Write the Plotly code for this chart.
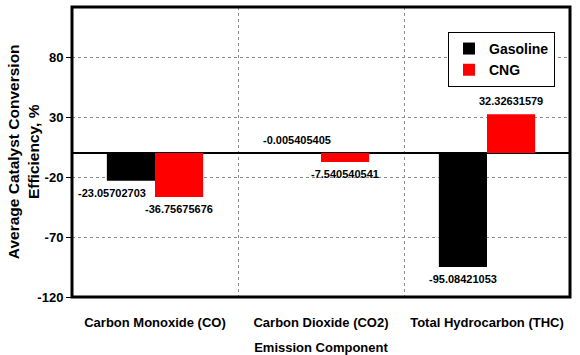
import plotly.graph_objects as go

categories = ["Carbon Monoxide (CO)", "Carbon Dioxide (CO2)", "Total Hydrocarbon (THC)"]
gasoline = [-23.05702703, -0.005405405, -95.08421053]
cng = [-36.75675676, -7.540540541, 32.32631579]
gas_labels = ["-23.05702703", "-0.005405405", "-95.08421053"]
cng_labels = ["-36.75675676", "-7.540540541", "32.32631579"]
ytick_vals = [-120, -70, -20, 30, 80]

FONT = "Liberation Sans, Arial, sans-serif"
BARGAP = 0.42
half = (1 - BARGAP) / 4  # half width of one bar in category units

fig = go.Figure()
fig.add_trace(go.Bar(name="<b>Gasoline</b>", x=categories, y=gasoline, marker_color="#000000",
                     marker_line_width=0))
fig.add_trace(go.Bar(name="<b>CNG</b>", x=categories, y=cng, marker_color="#FF0000",
                     marker_line_width=0))

annotations = []
for i, (g, c, gl, cl) in enumerate(zip(gasoline, cng, gas_labels, cng_labels)):
    for val, lab, off in ((g, gl, -half), (c, cl, half)):
        xs = -19 if (i == 0 and off < 0) else 0
        annotations.append(dict(
            x=i + off, y=val, xref="x", yref="y", text="<b>%s</b>" % lab,
            showarrow=False, yshift=(-12 if val < -0.01 else 13), xshift=xs,
            font=dict(family=FONT, size=11, color="#000000")))

annotations.append(dict(
    x=-0.098, y=0.5, xref="paper", yref="paper", textangle=-90,
    text="<b>Average Catalyst Conversion<br>Efficiency, %</b>", showarrow=False,
    font=dict(family=FONT, size=15.5, color="#000000"), xanchor="center", yanchor="middle"))

fig.update_layout(
    width=580, height=355,
    margin=dict(l=72, r=10, t=7, b=58),
    paper_bgcolor="white", plot_bgcolor="white",
    barmode="group", bargap=BARGAP, bargroupgap=0,
    font=dict(family=FONT, size=13, color="#000000"),
    legend=dict(x=0.755, y=0.914, xanchor="left", yanchor="top",
                bgcolor="white", bordercolor="#000000", borderwidth=1,
                font=dict(family=FONT, size=14, color="#000000"),
                itemwidth=30, tracegroupgap=0),
    annotations=annotations,
    shapes=[dict(type="rect", xref="paper", yref="paper", x0=0, y0=0, x1=1, y1=1,
                 line=dict(color="#000000", width=3), layer="above")],
)

fig.update_xaxes(
    type="category", tickson="boundaries", showgrid=True, gridcolor="#8c8c8c",
    griddash="dot", gridwidth=1, ticks="", showline=False, automargin=False,
    ticklabelstandoff=16,
    tickfont=dict(family=FONT, size=13, color="#000000"),
    ticktext=["<b>%s</b>" % c for c in categories], tickvals=categories,
    title=dict(text="<b>Emission Component</b>", standoff=14,
               font=dict(family=FONT, size=13, color="#000000")),
)
fig.update_yaxes(
    range=[-120, 121.7], tickvals=ytick_vals, automargin=False,
    ticktext=["<b>%d</b>" % v for v in ytick_vals],
    showgrid=True, gridcolor="#8c8c8c", griddash="dot", gridwidth=1,
    zeroline=True, zerolinecolor="#000000", zerolinewidth=2,
    ticks="outside", ticklen=5, tickcolor="#000000", tickwidth=1,
    tickfont=dict(family=FONT, size=13, color="#000000"), showline=False,
)

fig.write_html("out.html", config={"displayModeBar": False},
               post_script="document.body.style.margin='0';")
